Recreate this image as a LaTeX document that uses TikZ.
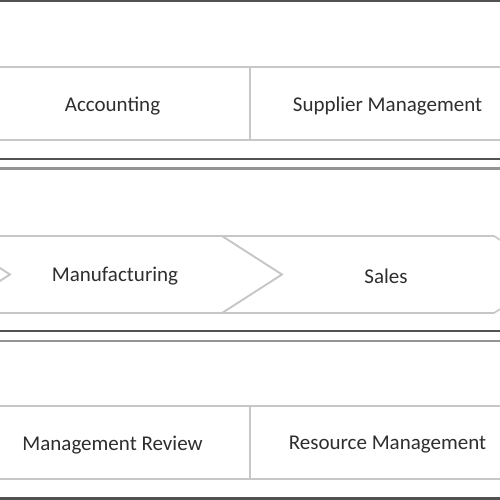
\documentclass[tikz,border=0pt]{standalone}
\usepackage{fontspec}
\setmainfont{Carlito}
\begin{document}
\begin{tikzpicture}[x=1pt,y=-1pt,
  darkrule/.style={draw=black!68,line width=2.2pt},
  midrule/.style={draw=black!42,line width=2.4pt},
  cell/.style={draw=black!22,line width=1.6pt,minimum width=275pt,minimum height=73pt,inner sep=0pt},
  chev/.style={draw=black!22,line width=1.6pt,line join=miter},
  lbl/.style={font=\fontsize{21}{24}\selectfont,text=black!82,inner sep=0pt}]
\useasboundingbox (0,0) rectangle (500,500);
\clip (0,0) rectangle (500,500);
\fill[white] (0,0) rectangle (500,500);
% frame rules
\coordinate (f1a) at (-10,1);   \coordinate (f1b) at (510,1);
\coordinate (f2a) at (-10,159); \coordinate (f2b) at (510,159);
\coordinate (f3a) at (-10,168.5); \coordinate (f3b) at (510,168.5);
\coordinate (f4a) at (-10,331); \coordinate (f4b) at (510,331);
\coordinate (f5a) at (-10,341); \coordinate (f5b) at (510,341);
\coordinate (f6a) at (-10,498.5); \coordinate (f6b) at (510,498.5);
\draw[darkrule] (f1a) -- (f1b);
\draw[darkrule] (f2a) -- (f2b);
\draw[midrule] (f3a) -- (f3b);
\draw[darkrule] (f4a) -- (f4b);
\draw[midrule] (f5a) -- (f5b);
\draw[darkrule] (f6a) -- (f6b);
% top row
\node[cell] (acc) at (112.5,103.5) {};
\node[cell] (sup) at (387.5,103.5) {};
\node[lbl] (acct) at (112.5,106) {Accounting};
\node[lbl] (supt) at (387.5,106) {Supplier Management};
% middle row chevrons
\draw[chev] (-112,236) -- (-50,236) -- (10,274.5) -- (-50,313) -- (-112,313);
\draw[chev] (-50,236) -- (222,236) -- (282,274.5) -- (222,313) -- (-50,313) -- (10,274.5) -- cycle;
\draw[chev] (222,236) -- (494,236) -- (554,274.5) -- (494,313) -- (222,313) -- (282,274.5) -- cycle;
\node[lbl] (man) at (115,276.5) {Manufacturing};
\node[lbl] (sal) at (386,276.5) {Sales};
% bottom row
\node[cell] (rev) at (112.5,442.5) {};
\node[cell] (res) at (387.5,442.5) {};
\node[lbl] (revt) at (112.5,445) {Management Review};
\node[lbl] (rest) at (387.5,445) {Resource Management};
\end{tikzpicture}
\end{document}
